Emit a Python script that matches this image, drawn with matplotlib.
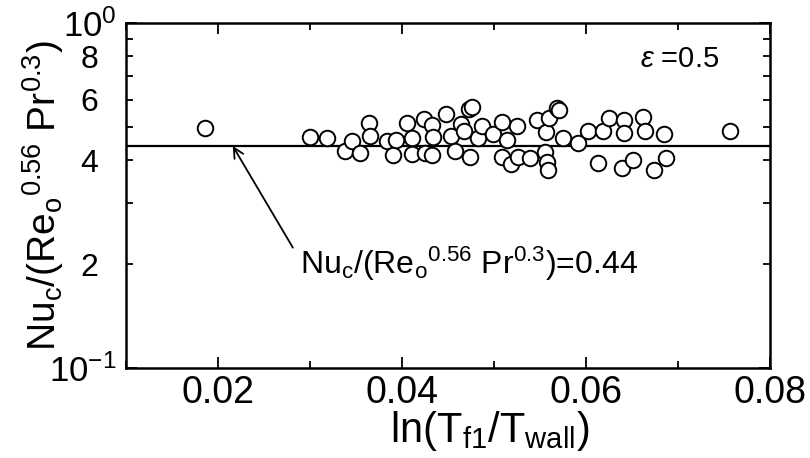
import numpy as np
import matplotlib
matplotlib.use('Agg')
import matplotlib.pyplot as plt
from matplotlib.ticker import FixedLocator, FixedFormatter, MultipleLocator

plt.rcParams['font.family'] = ['Liberation Sans', 'DejaVu Sans']
plt.rcParams['mathtext.fontset'] = 'custom'
plt.rcParams['mathtext.rm'] = 'Liberation Sans'
plt.rcParams['mathtext.it'] = 'Liberation Sans:italic'
plt.rcParams['mathtext.bf'] = 'Liberation Sans:bold'

# ln(T_f1/T_wall) and normalised Nusselt number, eps = 0.5
ln_t = [0.0186, 0.0300, 0.0318, 0.0338, 0.0346, 0.0354, 0.0364, 0.0365, 0.0384,
        0.0390, 0.0394, 0.0405, 0.0411, 0.0411, 0.0424, 0.0433, 0.0425, 0.0433,
        0.0434, 0.0448, 0.0453, 0.0458, 0.0464, 0.0467, 0.0473, 0.0476, 0.0474,
        0.0483, 0.0487, 0.0499, 0.0509, 0.0509, 0.0514, 0.0518, 0.0525, 0.0526,
        0.0539, 0.0547, 0.0557, 0.0555, 0.0558, 0.0559, 0.0560, 0.0568, 0.0571,
        0.0575, 0.0591, 0.0602, 0.0613, 0.0618, 0.0625, 0.0641, 0.0641, 0.0639,
        0.0651, 0.0662, 0.0664, 0.0674, 0.0685, 0.0687, 0.0757]
nu_norm = [0.496, 0.467, 0.464, 0.426, 0.455, 0.420, 0.513, 0.471, 0.455,
           0.414, 0.458, 0.513, 0.464, 0.417, 0.527, 0.506, 0.420, 0.414,
           0.467, 0.545, 0.471, 0.426, 0.510, 0.486, 0.563, 0.571, 0.409,
           0.464, 0.503, 0.477, 0.516, 0.409, 0.458, 0.390, 0.503, 0.409,
           0.406, 0.523, 0.483, 0.423, 0.395, 0.375, 0.530, 0.567, 0.560,
           0.464, 0.449, 0.486, 0.393, 0.486, 0.530, 0.523, 0.480, 0.380,
           0.401, 0.534, 0.486, 0.375, 0.477, 0.406, 0.486]

# correlation constant
c_fit = 0.44

y_major = [0.1, 1.0]
y_major_labels = [r'$10^{-1}$', r'$10^{0}$']
y_minor = [0.2, 0.3, 0.4, 0.5, 0.6, 0.7, 0.8, 0.9]
y_minor_labels = ['2', '', '4', '', '6', '', '8', '']
x_major = [0.02, 0.04, 0.06, 0.08]

fig = plt.figure(figsize=(8.1, 4.58), dpi=100)
ax = fig.add_axes([0.1556, 0.1965, 0.795, 0.7533])

ax.plot([0.01, 0.08], [c_fit, c_fit], color='black', lw=1.6, zorder=2)
ax.scatter(ln_t, nu_norm, s=125, facecolors='white', edgecolors='black',
           linewidths=1.4, zorder=3)

ax.set_xlim(0.01, 0.08)
ax.set_yscale('log')
ax.set_ylim(0.1, 1.0)

ax.xaxis.set_major_locator(FixedLocator(x_major))
ax.xaxis.set_major_formatter(FixedFormatter(['0.02', '0.04', '0.06', '0.08']))
ax.xaxis.set_minor_locator(MultipleLocator(0.01))
ax.yaxis.set_major_locator(FixedLocator(y_major))
ax.yaxis.set_major_formatter(FixedFormatter(y_major_labels))
ax.yaxis.set_minor_locator(FixedLocator(y_minor))
ax.yaxis.set_minor_formatter(FixedFormatter(y_minor_labels))

ax.tick_params(which='both', direction='in', top=True, right=True,
               width=1.3, colors='black')
ax.tick_params(which='major', length=8, labelsize=27, pad=5)
ax.tick_params(axis='y', which='major', labelsize=25, pad=7)
ax.tick_params(which='minor', length=5)
ax.tick_params(axis='y', which='minor', labelsize=23, pad=20)
for sp in ax.spines.values():
    sp.set_linewidth(1.8)

ax.set_xlabel(r'ln(T$_{\rm f1}$/T$_{\rm wall}$)', fontsize=30)
ax.xaxis.set_label_coords(0.565, -0.12)
ax.set_ylabel(r'Nu$_{\rm c}$/(Re$_{\rm o}$$^{0.56}$ Pr$^{0.3}$)', fontsize=28)
ax.yaxis.set_label_coords(-0.093, 0.5)

ax.text(0.798, 0.896, r'$\epsilon$ =0.5', transform=ax.transAxes,
        fontsize=21, va='center', ha='left')

ax.annotate(r'Nu$_{\rm c}$/(Re$_{\rm o}$$^{0.56}$ Pr$^{0.3}$)=0.44',
            xy=(0.0216, c_fit), xytext=(0.0289, 0.2),
            fontsize=23, va='center', ha='left',
            arrowprops=dict(arrowstyle='->', color='black', lw=1.3,
                            relpos=(0.0, 0.62), shrinkA=6, shrinkB=0,
                            mutation_scale=18))

fig.savefig('out.png', dpi=100)
